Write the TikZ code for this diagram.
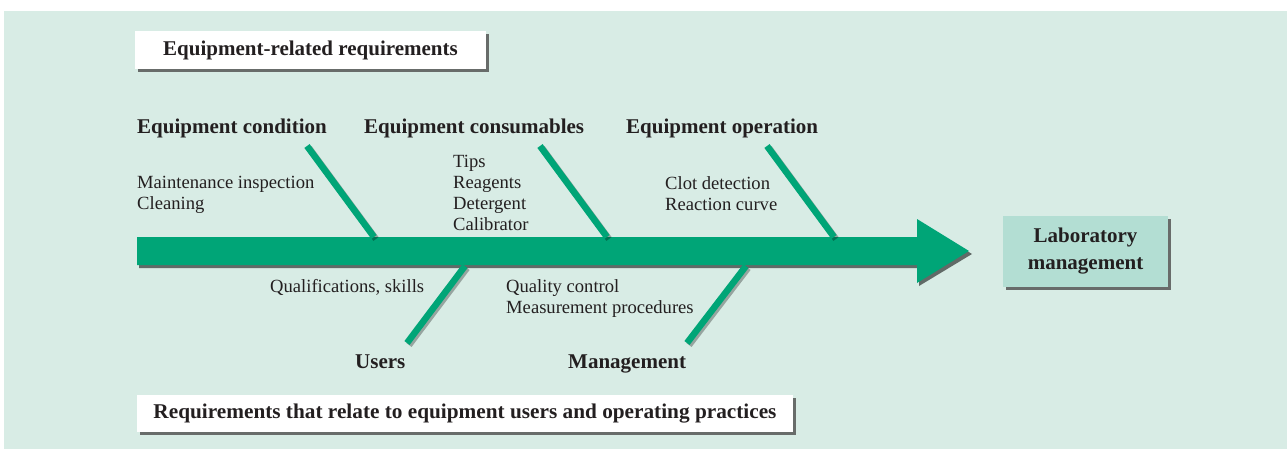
\documentclass[tikz,border=0pt]{standalone}
\usepackage{fontspec}
\setmainfont{Liberation Serif}
\usetikzlibrary{shadows}
\definecolor{bg}{HTML}{D8ECE5}
\definecolor{fish}{HTML}{00A577}
\definecolor{labfill}{HTML}{B3DED3}
\definecolor{ink}{HTML}{231F20}
\begin{document}
\begin{tikzpicture}[x=1pt,y=-1pt,
  every node/.style={text=ink},
  cat/.style={font=\fontsize{21}{26}\selectfont\bfseries, inner sep=0pt, anchor=base west},
  item/.style={font=\fontsize{18.6}{21}\selectfont, inner sep=0pt, anchor=north west, align=left},
  bone/.style={draw=fish, line width=6.5pt},
  boneshadow/.style={draw=black, opacity=0.3, line width=6.5pt},
  box/.style={font=\fontsize{21}{27}\selectfont\bfseries, inner sep=0pt, align=center,
    drop shadow={shadow xshift=3pt, shadow yshift=-3pt, fill=black!70, opacity=0.8}}
]
\useasboundingbox (0,0) rectangle (1287,449);
\fill[bg] (4,11) rectangle (1287,449);

% spine
\fill[black, opacity=0.55] (139,240) -- (919,240) -- (919,222) -- (972,254) -- (919,286) -- (919,268) -- (139,268) -- cycle;
\fill[fish] (137,237) -- (917,237) -- (917,219) -- (969,251) -- (917,283) -- (917,265) -- (137,265) -- cycle;

% bone coordinates
\coordinate (c1t) at (307,146); \coordinate (c1b) at (374,237);
\coordinate (c2t) at (540,146); \coordinate (c2b) at (607,237);
\coordinate (c3t) at (767,146); \coordinate (c3b) at (834,237);
\coordinate (c4t) at (465,266); \coordinate (c4b) at (407,343);
\coordinate (c5t) at (746,266); \coordinate (c5b) at (687,343);

\foreach \b in {1,2,3,4,5}{
  \draw[boneshadow] ([shift={(2,2)}]c\b t) -- ([shift={(2,2)}]c\b b);
}
\draw[bone] (c1t) -- (c1b);
\draw[bone] (c2t) -- (c2b);
\draw[bone] (c3t) -- (c3b);
\draw[bone] (c4t) -- (c4b);
\draw[bone] (c5t) -- (c5b);

% category labels
\node[cat] (cond) at (137,134) {Equipment condition};
\node[cat] (cons) at (364,134) {Equipment consumables};
\node[cat] (oper) at (626,134) {Equipment operation};
\node[cat] (users) at (355,368) {Users};
\node[cat] (mgmt) at (568,368) {Management};

% items
\node[item] (condi) at (137,176) {Maintenance inspection\\Cleaning};
\node[item] (consi) at (453,155) {Tips\\Reagents\\Detergent\\Calibrator};
\node[item] (operi) at (665,176) {Clot detection\\Reaction curve};
\node[item] (usersi) at (270,279) {Qualifications, skills};
\node[item] (mgmti) at (506,279) {Quality control\\Measurement procedures};

% boxes
\node[box, fill=white, minimum width=351pt, minimum height=38pt] (topbox) at (310.5,50) {Equipment-related requirements};
\node[box, fill=white, minimum width=656pt, minimum height=37pt] (botbox) at (465,413.5)
  {\resizebox{623pt}{\height}{Requirements that relate to equipment users and operating practices}};
\node[box, fill=labfill, minimum width=165pt, minimum height=71pt] (lab) at (1085.5,251) {Laboratory\\management};
\end{tikzpicture}
\end{document}
